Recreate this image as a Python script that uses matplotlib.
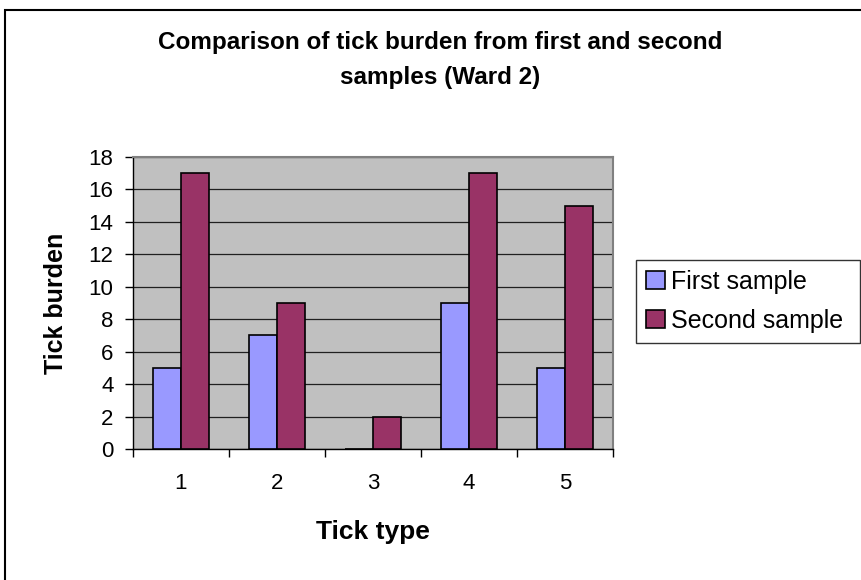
import matplotlib.pyplot as plt
import matplotlib.patches as mpatches
import numpy as np

# data
tick_types = ['1', '2', '3', '4', '5']
first_sample = [5, 7, 0, 9, 5]
second_sample = [17, 9, 2, 17, 15]

plt.rcParams['font.family'] = ['Liberation Sans', 'DejaVu Sans']

fig = plt.figure(figsize=(8.62, 5.8), dpi=100)
# outer chart border (clipped on the right and bottom like the reference)
fig.patches.append(mpatches.Rectangle((5 / 862, -0.05), 1.0, 1 - 10 / 580 + 0.05,
                                      transform=fig.transFigure, fill=False,
                                      edgecolor='black', linewidth=1.5))

ax = fig.add_axes([133 / 862, 1 - 449 / 580, 480 / 862, 292 / 580])
ax.set_facecolor('#C0C0C0')

x = np.arange(1, len(tick_types) + 1)
w = 0.29
ax.bar(x - w / 2, first_sample, w, color='#9999FF', edgecolor='black',
       linewidth=1.2, label='First sample', zorder=3)
ax.bar(x + w / 2, second_sample, w, color='#993366', edgecolor='black',
       linewidth=1.2, label='Second sample', zorder=3)

ax.set_xlim(0.5, 5.5)
ax.set_ylim(0, 18)
ax.set_yticks(range(0, 19, 2))
ax.yaxis.grid(True, color='#202020', linewidth=0.9, zorder=1)
ax.set_axisbelow(True)

ax.set_xticks(x)
ax.set_xticklabels(tick_types)
ax.set_xticks(np.arange(0.5, 5.6, 1), minor=True)
ax.tick_params(axis='x', which='major', length=0, pad=17, labelsize=16)
ax.tick_params(axis='x', which='minor', length=6, width=1, direction='out')
ax.tick_params(axis='y', length=6, width=1, labelsize=16, pad=8)

for side in ['top', 'right']:
    ax.spines[side].set_color('#808080')
    ax.spines[side].set_linewidth(1.5)
for side in ['left', 'bottom']:
    ax.spines[side].set_color('black')
    ax.spines[side].set_linewidth(1)

ax.set_xlabel('Tick type', fontsize=19, fontweight='bold', labelpad=19)
ax.set_ylabel('Tick burden', fontsize=18, fontweight='bold', labelpad=15)

fig.text(440 / 862, 1 - 60 / 580,
         'Comparison of tick burden from first and second\nsamples (Ward 2)',
         ha='center', va='center', fontsize=17.5, fontweight='bold', linespacing=1.65)

leg = ax.legend(loc='center left', bbox_to_anchor=(636 / 862, 1 - 345 / 580, 224 / 862, 87 / 580),
                bbox_transform=fig.transFigure, mode='expand', fontsize=18,
                frameon=True, fancybox=False, edgecolor='black', handlelength=0.75,
                handleheight=0.75, handletextpad=0.25, borderpad=0.4,
                borderaxespad=0, labelspacing=0.6)
leg.get_frame().set_linewidth(1)

fig.savefig('out.png', dpi=100)
